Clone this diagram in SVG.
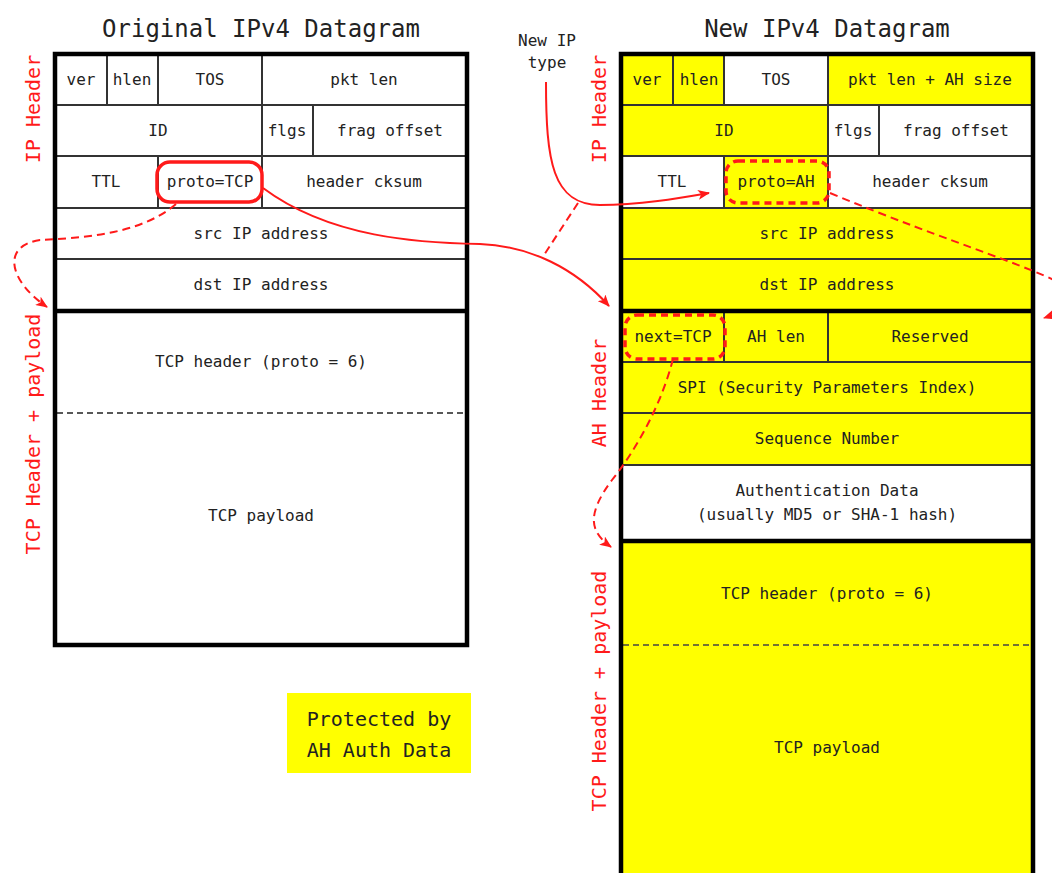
<svg xmlns="http://www.w3.org/2000/svg" width="1052" height="873" viewBox="0 0 1052 873">
<defs>
<style>
.c{stroke:#333;stroke-width:2}
.w{fill:#fff}
.y{fill:#ffff00}
.t{font-family:"DejaVu Sans Mono","Liberation Mono",monospace;font-size:16px;fill:#222;text-anchor:middle}
.ttl{font-family:"DejaVu Sans Mono","Liberation Mono",monospace;font-size:24px;fill:#222;text-anchor:middle}
.lab{font-family:"DejaVu Sans Mono","Liberation Mono",monospace;font-size:20px;fill:#ff1a1a;text-anchor:middle}
.outer{fill:none;stroke:#000;stroke-width:4.5}
.sep{stroke:#000;stroke-width:4.5}
.red{fill:none;stroke:#ff1a1a;stroke-width:2}
.rdash{fill:none;stroke:#ff1a1a;stroke-width:2;stroke-dasharray:8 5}
.hl{fill:none;stroke:#ff1a1a;stroke-width:3.5}
.hld{fill:none;stroke:#ff1a1a;stroke-width:3.5;stroke-dasharray:7 5}
</style>
<marker id="ah" viewBox="0 0 12 10" refX="11" refY="5" markerWidth="12" markerHeight="10" markerUnits="userSpaceOnUse" orient="auto">
<path d="M0,0 L12,5 L0,10 L3,5 Z" fill="#ff1a1a"/>
</marker>
</defs>
<rect width="1052" height="873" fill="#fff"/>

<text class="ttl" x="261" y="37">Original IPv4 Datagram</text>
<text class="ttl" x="827" y="37">New IPv4 Datagram</text>

<g id="left-datagram">
<rect class="c w" x="55" y="54" width="52" height="51"/>
<rect class="c w" x="107" y="54" width="51" height="51"/>
<rect class="c w" x="158" y="54" width="104" height="51"/>
<rect class="c w" x="262" y="54" width="205" height="51"/>
<rect class="c w" x="55" y="105" width="207" height="51"/>
<rect class="c w" x="262" y="105" width="51" height="51"/>
<rect class="c w" x="313" y="105" width="154" height="51"/>
<rect class="c w" x="55" y="156" width="103" height="52"/>
<rect class="c w" x="158" y="156" width="104" height="52"/>
<rect class="c w" x="262" y="156" width="205" height="52"/>
<rect class="c w" x="55" y="208" width="412" height="51"/>
<rect class="c w" x="55" y="259" width="412" height="52"/>
<rect class="w" x="55" y="311" width="412" height="334"/>
<line x1="57" y1="413" x2="465" y2="413" stroke="#222" stroke-width="1.5" stroke-dasharray="6 4"/>
<rect class="outer" x="55" y="54" width="412" height="591"/>
<line class="sep" x1="55" y1="311" x2="467" y2="311"/>
<text class="t" x="81" y="85">ver</text>
<text class="t" x="132" y="85">hlen</text>
<text class="t" x="210" y="85">TOS</text>
<text class="t" x="364" y="85">pkt len</text>
<text class="t" x="158" y="136">ID</text>
<text class="t" x="287" y="136">flgs</text>
<text class="t" x="390" y="136">frag offset</text>
<text class="t" x="106" y="187">TTL</text>
<text class="t" x="210" y="187">proto=TCP</text>
<text class="t" x="364" y="187">header cksum</text>
<text class="t" x="261" y="239">src IP address</text>
<text class="t" x="261" y="290">dst IP address</text>
<text class="t" x="261" y="367">TCP header (proto = 6)</text>
<text class="t" x="261" y="521">TCP payload</text>
<rect class="hl" x="157" y="162" width="105" height="40" rx="13"/>
</g>

<g id="right-datagram">
<rect class="c y" x="621" y="54" width="52" height="51"/>
<rect class="c y" x="673" y="54" width="51" height="51"/>
<rect class="c w" x="724" y="54" width="104" height="51"/>
<rect class="c y" x="828" y="54" width="205" height="51"/>
<rect class="c y" x="621" y="105" width="207" height="51"/>
<rect class="c w" x="828" y="105" width="51" height="51"/>
<rect class="c w" x="879" y="105" width="154" height="51"/>
<rect class="c w" x="621" y="156" width="103" height="52"/>
<rect class="c y" x="724" y="156" width="104" height="52"/>
<rect class="c w" x="828" y="156" width="205" height="52"/>
<rect class="c y" x="621" y="208" width="412" height="51"/>
<rect class="c y" x="621" y="259" width="412" height="52"/>
<rect class="c y" x="621" y="311" width="103" height="51"/>
<rect class="c y" x="724" y="311" width="104" height="51"/>
<rect class="c y" x="828" y="311" width="205" height="51"/>
<rect class="c y" x="621" y="362" width="412" height="51"/>
<rect class="c y" x="621" y="413" width="412" height="52"/>
<rect class="c w" x="621" y="465" width="412" height="76"/>
<rect class="y" x="621" y="541" width="412" height="340"/>
<line x1="623" y1="645" x2="1031" y2="645" stroke="#444" stroke-width="1.5" stroke-dasharray="6 4"/>
<rect class="outer" x="621" y="54" width="412" height="830"/>
<line class="sep" x1="621" y1="311" x2="1033" y2="311"/>
<line class="sep" x1="621" y1="541" x2="1033" y2="541"/>
<text class="t" x="647" y="85">ver</text>
<text class="t" x="699" y="85">hlen</text>
<text class="t" x="776" y="85">TOS</text>
<text class="t" x="930" y="85">pkt len + AH size</text>
<text class="t" x="724" y="136">ID</text>
<text class="t" x="853" y="136">flgs</text>
<text class="t" x="956" y="136">frag offset</text>
<text class="t" x="672" y="187">TTL</text>
<text class="t" x="776" y="187">proto=AH</text>
<text class="t" x="930" y="187">header cksum</text>
<text class="t" x="827" y="239">src IP address</text>
<text class="t" x="827" y="290">dst IP address</text>
<text class="t" x="673" y="342">next=TCP</text>
<text class="t" x="776" y="342">AH len</text>
<text class="t" x="930" y="342">Reserved</text>
<text class="t" x="827" y="393">SPI (Security Parameters Index)</text>
<text class="t" x="827" y="444">Sequence Number</text>
<text class="t" x="827" y="496">Authentication Data</text>
<text class="t" x="827" y="520">(usually MD5 or SHA-1 hash)</text>
<text class="t" x="827" y="599">TCP header (proto = 6)</text>
<text class="t" x="827" y="753">TCP payload</text>
<rect class="hld" x="726" y="161" width="103" height="42" rx="12"/>
<rect class="hld" x="625" y="315" width="100" height="44" rx="12"/>
</g>

<g id="side-labels">
<text class="lab" transform="translate(40,109) rotate(-90)">IP Header</text>
<text class="lab" transform="translate(40,434) rotate(-90)">TCP Header + payload</text>
<text class="lab" transform="translate(606,109) rotate(-90)">IP Header</text>
<text class="lab" transform="translate(606,393) rotate(-90)">AH Header</text>
<text class="lab" transform="translate(606,691) rotate(-90)">TCP Header + payload</text>
</g>

<g id="note-new-ip-type">
<text class="t" x="547" y="46">New IP</text>
<text class="t" x="547" y="68">type</text>
</g>

<g id="legend">
<rect x="287" y="693" width="184" height="80" fill="#ffff00"/>
<text class="lab" x="379" y="726" style="fill:#222">Protected by</text>
<text class="lab" x="379" y="757" style="fill:#222">AH Auth Data</text>
</g>

<g id="connectors">
<path class="red" d="M263,188 C330,238 420,243 480,244 C530,246 575,268 609,306" marker-end="url(#ah)"/>
<path class="rdash" d="M176,204 C140,235 80,238 40,240 C0,246 10,282 47,307" marker-end="url(#ah)"/>
<path class="red" d="M546,82 C546,160 552,205 600,205 C640,205 680,198 709,193" marker-end="url(#ah)"/>
<path class="rdash" d="M578,203 L544,255"/>
<path class="rdash" d="M830,193 C950,243 1050,272 1075,292 C1085,305 1065,311 1044,318" marker-end="url(#ah)"/>
<path class="rdash" d="M673,359 C660,410 632,455 612,480 C586,515 590,532 611,547" marker-end="url(#ah)"/>
</g>
</svg>
